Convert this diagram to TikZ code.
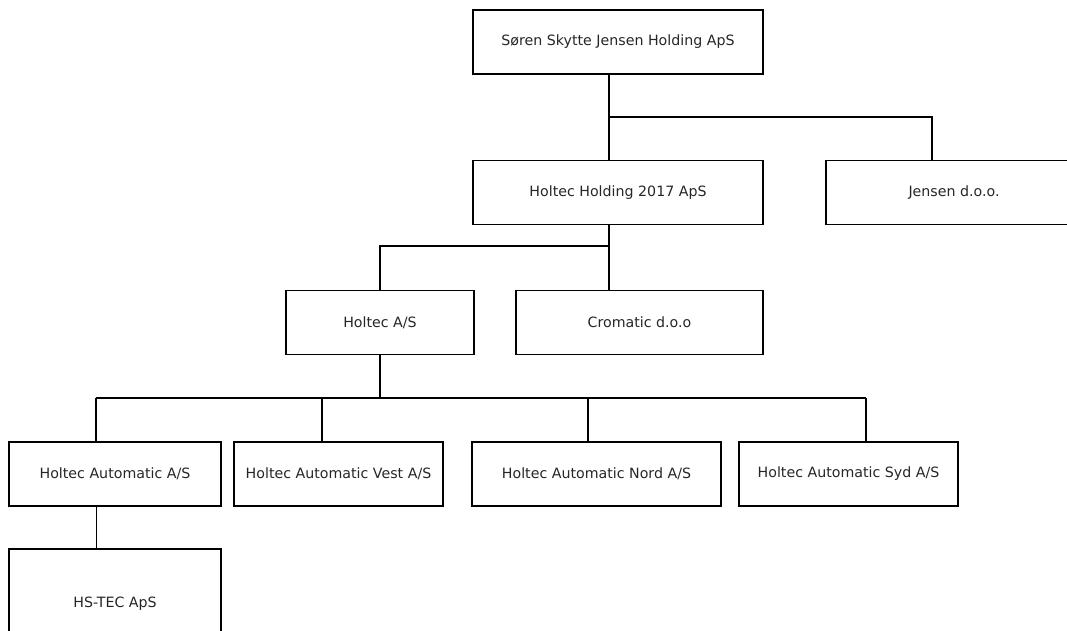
\documentclass[tikz,border=0pt]{standalone}
\usepackage{fontspec}
\setmainfont{DejaVu Sans}
\usetikzlibrary{positioning, calc}

\begin{document}
\begin{tikzpicture}[x=1pt, y=-1pt,
    firm/.style={draw, line width=1.4pt, minimum height=64pt, inner sep=0pt,
                 font=\fontsize{14.2}{17}\selectfont, text=black!85},
    link/.style={line width=1.1pt}]
                        \useasboundingbox (0,0) rectangle (1067,631);
                        \node[firm, minimum width=290pt] (sjh) at (618, 42) {Søren Skytte Jensen Holding ApS};
                        \node[firm, minimum width=290pt] (hh) at (618, 192.5) {Holtec Holding 2017 ApS};
                        \node[firm, minimum width=256pt] (jd) at (954, 192.5) {Jensen d.o.o.};
                        \node[firm, minimum width=188pt] (ha) at (380, 322.5) {Holtec A/S};
                        \node[firm, minimum width=247pt] (cd) at (639.5, 322.5) {Cromatic d.o.o};
                        \node[firm, minimum width=212pt] (haa) at (115, 474) {Holtec Automatic A/S};
                        \node[firm, minimum width=209pt] (hav) at (338.5, 474) {Holtec Automatic Vest A/S};
                        \node[firm, minimum width=249pt] (han) at (596.5, 474) {Holtec Automatic Nord A/S};
                        \node[firm, minimum width=219pt] (has) at (848.5, 474) {Holtec Automatic Syd A/S};
                        \node[firm, minimum width=212pt, minimum height=110pt] (hst) at (115, 604) {HS-TEC ApS};
                        \coordinate (b1) at (609, 117);
                        \coordinate (j1) at (932, 117);
                        \coordinate (b2) at (609, 246);
                        \coordinate (a2) at (380, 246);
                        \coordinate (b3) at (380, 398);
                        \coordinate (l1) at (96, 398);
                        \coordinate (l2) at (322, 398);
                        \coordinate (l3) at (588, 398);
                        \coordinate (l4) at (866, 398);
                        \draw[link]
                        (b1 |- sjh.south) -- (b1 |- hh.north)
                        (b1) -- (j1) -- (j1 |- jd.north)
                        (b2 |- hh.south) -- (b2 |- cd.north)
                        (b2) -- (a2) -- (ha.north)
                        (ha.south) -- (b3)
                        (l1) -- (l4)
                        (l1) -- (l1 |- haa.north)
                        (l2) -- (l2 |- hav.north)
                        (l3) -- (l3 |- han.north)
                        (l4) -- (l4 |- has.north);
                        \draw[line width=0.8pt] (l1 |- haa.south) -- (l1 |- hst.north);
                    \end{tikzpicture}
\end{document}
